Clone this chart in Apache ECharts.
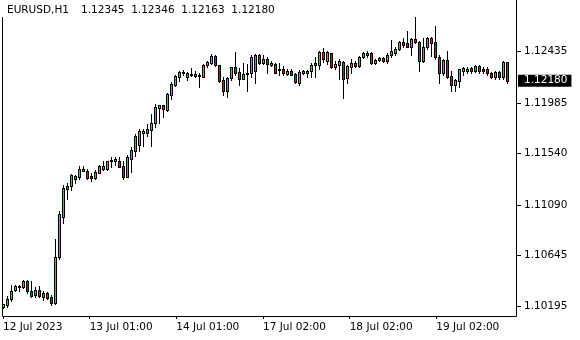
<!DOCTYPE html>
<html><head><meta charset="utf-8">
<script src="https://cdn.jsdelivr.net/npm/echarts@6/dist/echarts.min.js"></script>
<style>html,body{margin:0;padding:0;background:#fff}#c{width:580px;height:340px}</style>
</head><body><div id="c"></div>
<script>
const symbolName = 'EURUSD,H1';
const lastOHLC = ['1.12345', '1.12346', '1.12163', '1.12180'];

const opens = [
1.10192,1.10207,1.10260,1.10342,1.10365,1.10365,1.10423,1.10330,1.10296,1.10342,
1.10283,1.10318,1.10283,1.10225,1.10629,1.10986,1.11231,1.11255,1.11319,1.11332,
1.11390,1.11390,1.11343,1.11326,1.11372,1.11407,1.11407,1.11472,1.11477,1.11477,
1.11431,1.11337,1.11495,1.11565,1.11618,1.11723,1.11723,1.11747,1.11806,1.11940,
1.11964,1.11923,1.12052,1.12145,1.12210,1.12245,1.12216,1.12228,1.12221,1.12221,
1.12216,1.12316,1.12338,1.12397,1.12316,1.12186,1.12092,1.12204,1.12298,1.12257,
1.12198,1.12239,1.12245,1.12263,1.12403,1.12338,1.12373,1.12321,1.12327,1.12274,
1.12280,1.12239,1.12268,1.12239,1.12163,1.12250,1.12250,1.12263,1.12316,1.12321,
1.12432,1.12351,1.12421,1.12298,1.12321,1.12345,1.12204,1.12303,1.12338,1.12309,
1.12391,1.12409,1.12426,1.12333,1.12362,1.12380,1.12356,1.12403,1.12426,1.12456,
1.12520,1.12509,1.12479,1.12544,1.12520,1.12356,1.12474,1.12555,1.12520,1.12386,
1.12250,1.12362,1.12221,1.12140,1.12180,1.12268,1.12268,1.12292,1.12268,1.12309,
1.12280,1.12286,1.12250,1.12210,1.12257,1.12210,1.12345
];
const closes = [
1.10216,1.10260,1.10335,1.10377,1.10377,1.10423,1.10330,1.10289,1.10342,1.10289,
1.10313,1.10271,1.10225,1.10629,1.11009,1.11238,1.11255,1.11354,1.11343,1.11407,
1.11402,1.11326,1.11323,1.11378,1.11431,1.11431,1.11472,1.11484,1.11490,1.11425,
1.11337,1.11513,1.11571,1.11694,1.11741,1.11741,1.11759,1.11806,1.11946,1.11964,
1.11929,1.12064,1.12151,1.12221,1.12257,1.12257,1.12245,1.12239,1.12239,1.12233,
1.12321,1.12345,1.12397,1.12316,1.12180,1.12092,1.12204,1.12298,1.12250,1.12193,
1.12239,1.12250,1.12386,1.12403,1.12338,1.12373,1.12327,1.12333,1.12250,1.12286,
1.12245,1.12268,1.12233,1.12169,1.12257,1.12263,1.12268,1.12321,1.12333,1.12432,
1.12368,1.12432,1.12298,1.12327,1.12351,1.12198,1.12309,1.12338,1.12309,1.12391,
1.12421,1.12426,1.12333,1.12362,1.12380,1.12351,1.12409,1.12444,1.12461,1.12520,
1.12496,1.12479,1.12544,1.12520,1.12356,1.12474,1.12555,1.12509,1.12386,1.12250,
1.12362,1.12216,1.12140,1.12186,1.12280,1.12292,1.12286,1.12268,1.12309,1.12268,
1.12263,1.12245,1.12216,1.12257,1.12210,1.12345,1.12180
];
const lows = [
1.10184,1.10196,1.10248,1.10330,1.10330,1.10359,1.10318,1.10278,1.10283,1.10283,
1.10254,1.10260,1.10207,1.10219,1.10617,1.10928,1.11138,1.11220,1.11279,1.11314,
1.11384,1.11319,1.11302,1.11314,1.11367,1.11396,1.11396,1.11419,1.11442,1.11419,
1.11319,1.11332,1.11378,1.11519,1.11565,1.11607,1.11694,1.11607,1.11771,1.11811,
1.11859,1.11911,1.12017,1.12134,1.12180,1.12228,1.12186,1.12221,1.12210,1.12128,
1.12210,1.12298,1.12327,1.12309,1.12169,1.12052,1.12040,1.12186,1.12233,1.12145,
1.12193,1.12092,1.12216,1.12157,1.12327,1.12327,1.12250,1.12307,1.12245,1.12228,
1.12233,1.12228,1.12228,1.12157,1.12140,1.12239,1.12216,1.12210,1.12216,1.12280,
1.12345,1.12327,1.12292,1.12286,1.12198,1.12028,1.12163,1.12245,1.12298,1.12303,
1.12380,1.12391,1.12327,1.12327,1.12351,1.12345,1.12338,1.12391,1.12409,1.12450,
1.12479,1.12474,1.12409,1.12509,1.12268,1.12345,1.12461,1.12397,1.12373,1.12157,
1.12228,1.12204,1.12087,1.12087,1.12122,1.12228,1.12250,1.12250,1.12257,1.12245,
1.12250,1.12228,1.12204,1.12198,1.12198,1.12198,1.12163
];
const highs = [
1.10219,1.10289,1.10383,1.10388,1.10388,1.10430,1.10430,1.10418,1.10371,1.10377,
1.10330,1.10324,1.10295,1.10787,1.11038,1.11267,1.11279,1.11361,1.11354,1.11431,
1.11431,1.11402,1.11367,1.11396,1.11437,1.11472,1.11477,1.11513,1.11513,1.11513,
1.11477,1.11525,1.11600,1.11712,1.11753,1.11753,1.11800,1.11888,1.11976,1.11969,
1.11969,1.12070,1.12169,1.12228,1.12263,1.12274,1.12257,1.12292,1.12263,1.12250,
1.12327,1.12356,1.12415,1.12403,1.12321,1.12216,1.12210,1.12303,1.12432,1.12292,
1.12333,1.12327,1.12403,1.12415,1.12415,1.12403,1.12386,1.12353,1.12333,1.12338,
1.12309,1.12280,1.12286,1.12245,1.12274,1.12274,1.12274,1.12338,1.12391,1.12438,
1.12467,1.12438,1.12426,1.12351,1.12368,1.12351,1.12316,1.12368,1.12356,1.12397,
1.12432,1.12438,1.12432,1.12373,1.12391,1.12391,1.12421,1.12538,1.12479,1.12531,
1.12555,1.12619,1.12555,1.12737,1.12531,1.12555,1.12567,1.12561,1.12661,1.12406,
1.12373,1.12438,1.12268,1.12198,1.12286,1.12298,1.12303,1.12298,1.12316,1.12316,
1.12298,1.12303,1.12257,1.12263,1.12263,1.12351,1.12346
];

const yTicks = [1.10195, 1.10645, 1.11090, 1.11540, 1.11985, 1.12435];
const xTickPos = [0, 21.67, 43.33, 65, 86.67, 108.33];
const xTickLabels = ['12 Jul 2023', '13 Jul 01:00', '14 Jul 01:00', '17 Jul 02:00', '18 Jul 02:00', '19 Jul 02:00'];
const lastPrice = 1.12180;
const yMin = 1.101133, yMax = 1.128892;
const shiftBars = 2;
const bullColor = '#32cd32', bearColor = '#e01414';

const categories = opens.map((_, i) => 'b' + i);
for (let i = 0; i < shiftBars; i++) categories.push('s' + i);
const bars = opens.map((o, i) => [i, o, closes[i], lows[i], highs[i]]);
const symbolTitle = symbolName + '   \u2009' + lastOHLC.join('  ');

function renderCandle(params, api) {
  const idx = api.value(0), o = api.value(1), c = api.value(2), l = api.value(3), h = api.value(4);
  const pO = api.coord([idx, o]), pC = api.coord([idx, c]);
  const pL = api.coord([idx, l]), pH = api.coord([idx, h]);
  const cx = Math.round(pO[0]);
  const yTop = Math.round(Math.min(pO[1], pC[1]));
  const yBot = Math.max(Math.round(Math.max(pO[1], pC[1])), yTop + 1);
  const yHi = Math.min(Math.round(pH[1]), yTop), yLo = Math.max(Math.round(pL[1]), yBot);
  const bull = c >= o;
  const kids = [
    {type: 'rect', shape: {x: cx, y: yHi, width: 1, height: yLo - yHi + 1}, style: {fill: '#000'}},
    {type: 'rect', shape: {x: cx - 1, y: yTop, width: 3, height: yBot - yTop + 1}, style: {fill: '#000'}}
  ];
  if (yBot - yTop - 1 > 0) {
    kids.push({type: 'rect', shape: {x: cx, y: yTop + 1, width: 1, height: yBot - yTop - 1},
      style: {fill: bull ? bullColor : bearColor}});
  }
  return {type: 'group', children: kids};
}

const font = 'DejaVu Sans';
const chart = echarts.init(document.getElementById('c'), null, {renderer: 'canvas'});
chart.setOption({
  animation: false,
  backgroundColor: '#fff',
  title: {
    text: symbolTitle, left: 2, top: 0, padding: [5, 5, 1, 5], backgroundColor: '#fff', z: 10,
    textStyle: {fontFamily: font, fontSize: 10.5, fontWeight: 'normal', color: '#000', lineHeight: 11}
  },
  grid: {left: 1, top: 0, width: 516, height: 316, show: false},
  graphic: [{
    type: 'rect', z: 1, silent: true,
    shape: {x: 2.5, y: -1.5, width: 514, height: 318},
    style: {fill: 'none', stroke: '#000', lineWidth: 1}
  }],
  xAxis: [
    {type: 'category', data: categories, show: false, boundaryGap: true},
    {
      type: 'value', min: -0.5, max: categories.length - 0.5, position: 'bottom',
      axisLine: {show: false, onZero: false}, splitLine: {show: false},
      axisTick: {show: true, customValues: xTickPos, length: 3, lineStyle: {color: '#000'}},
      axisLabel: {
        customValues: xTickPos, align: 'left', margin: 6, color: '#000', fontFamily: font, fontSize: 10.5,
        formatter: function (v) {
          let best = 0;
          xTickPos.forEach((p, i) => { if (Math.abs(p - v) < Math.abs(xTickPos[best] - v)) best = i; });
          return xTickLabels[best];
        }
      }
    }
  ],
  yAxis: [
    {
      type: 'value', position: 'right', min: yMin, max: yMax,
      axisLine: {show: false, onZero: false}, splitLine: {show: false},
      axisTick: {show: true, customValues: yTicks, length: 4, lineStyle: {color: '#000'}},
      axisLabel: {customValues: yTicks, margin: 7, color: '#000', fontFamily: font, fontSize: 10.5,
        formatter: v => v.toFixed(5)}
    },
    {
      type: 'value', position: 'right', min: yMin, max: yMax, offset: 0, z: 5,
      axisLine: {show: false, onZero: false}, splitLine: {show: false}, axisTick: {show: false},
      axisLabel: {customValues: [lastPrice], margin: 1, color: '#fff', backgroundColor: '#000',
        padding: [1, 4, 1, 6], lineHeight: 10, fontFamily: font, fontSize: 10.5,
        formatter: v => v.toFixed(5)}
    }
  ],
  series: [{
    type: 'custom', xAxisIndex: 0, yAxisIndex: 0, data: bars, clip: false,
    encode: {x: 0, y: [1, 2, 3, 4]},
    renderItem: renderCandle
  }]
});
</script></body></html>
